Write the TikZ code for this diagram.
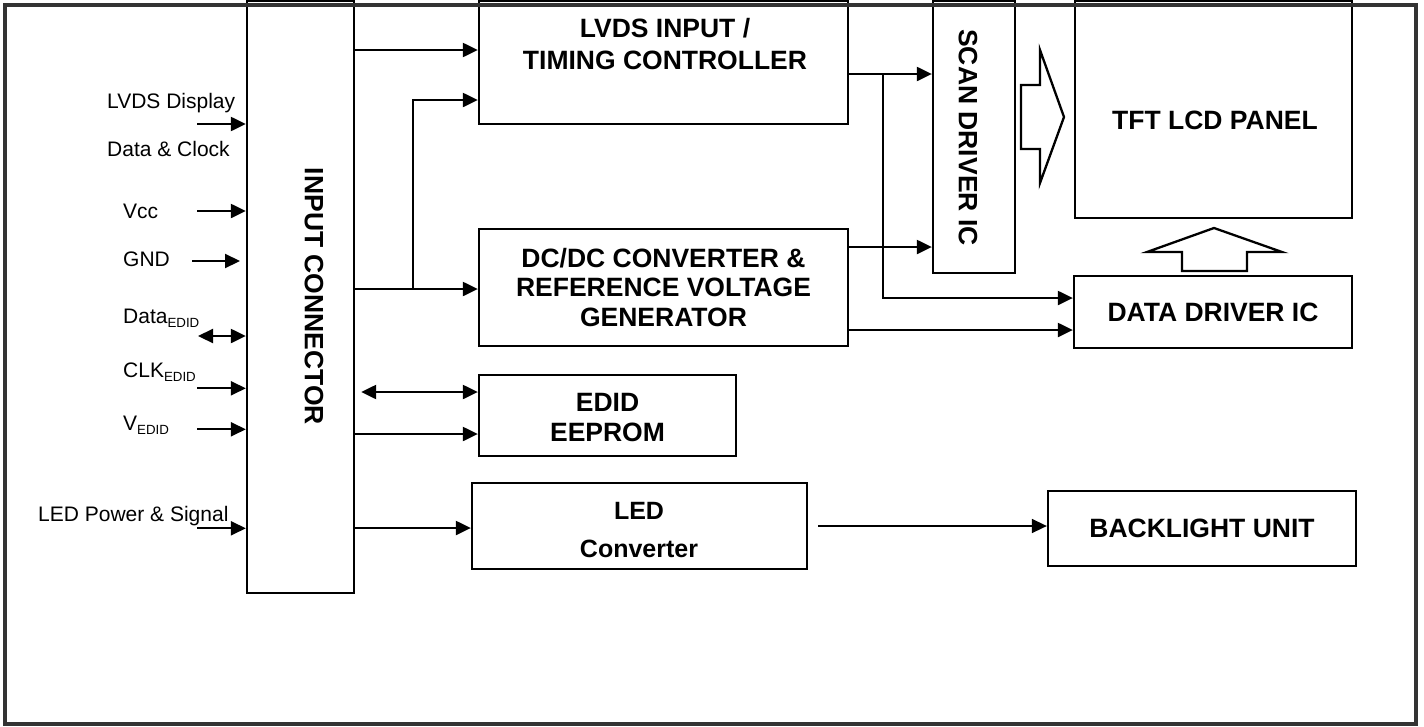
\documentclass[tikz,border=0pt]{standalone}
\usepackage{fontspec}
\setmainfont{Liberation Sans}
\usetikzlibrary{arrows.meta}
\definecolor{framegray}{RGB}{51,51,51}
\newcommand\myB{\fontsize{26.5}{30}\selectfont\bfseries}
\newcommand\myL{\fontsize{21}{25}\selectfont}
\newcommand\mysub[1]{\raisebox{-4.3pt}{\fontsize{13.3}{14}\selectfont #1}}
\begin{document}
\begin{tikzpicture}[x=1pt,y=-1pt,
  box/.style={draw, line width=2.3pt, inner sep=0pt, align=center, font=\myB},
  txt/.style={align=center, font=\myB},
  lbl/.style={anchor=base west, inner sep=0pt, font=\myL},
  arr/.style={line width=2.2pt, -{Triangle[length=15pt,width=14pt]}},
  darr/.style={line width=2.2pt, {Triangle[length=15pt,width=14pt]}-{Triangle[length=15pt,width=14pt]}},
  blk/.style={draw, line width=2.3pt, line join=miter, fill=white}]
\useasboundingbox (0,0) rectangle (1424,726);

% boxes
\node[box, minimum width=107pt, minimum height=592pt] (conn) at (300.5,297) {};
\node[box, minimum width=369pt, minimum height=123pt] (lvds) at (663.5,62.5) {};
\node[box, minimum width=369pt, minimum height=117pt, font=\fontsize{26.5}{29.5}\selectfont\bfseries] (dcdc) at (663.5,287.5) {DC/DC CONVERTER \&\\REFERENCE VOLTAGE\\GENERATOR};
\node[box, minimum width=257pt, minimum height=81pt] (edid) at (607.5,415.5) {};
\node[box, minimum width=335pt, minimum height=86pt] (led) at (639.5,526) {};
\node[box, minimum width=82pt, minimum height=272pt] (scan) at (974,137) {};
\node[box, minimum width=277pt, minimum height=217pt] (tft) at (1213.5,109.5) {};
\node[box, minimum width=278pt, minimum height=72pt] (ddrv) at (1213,312) {DATA DRIVER IC};
\node[box, minimum width=308pt, minimum height=75pt] (blu) at (1202,528.5) {BACKLIGHT UNIT};

% box texts
\node[txt, font=\fontsize{26.5}{32}\selectfont\bfseries] (lvdsT) at (665,44) {LVDS INPUT /\\TIMING CONTROLLER};
\node[txt, rotate=-90] (connT) at (314,296.5) {INPUT CONNECTOR};
\node[txt, rotate=-90] (scanT) at (968,137.5) {SCAN DRIVER IC};
\node[txt] (tftT) at (1215,120.7) {TFT LCD PANEL};
\node[txt] (edidT) at (607.5,418) {EDID\\EEPROM};
\node[txt, font=\fontsize{25}{38}\selectfont\bfseries] (ledT) at (639,530) {LED\\Converter};

% block arrows
\draw[blk] (1021,85) -- (1040,85) -- (1040,50) -- (1064,117) -- (1040,183) -- (1040,149) -- (1021,149) -- cycle;
\draw[blk] (1182,271) -- (1182,252) -- (1147,252) -- (1214,228) -- (1282,252) -- (1247,252) -- (1247,271) -- cycle;

% left labels
\node[lbl] (tLVDS1) at (107,108.5) {LVDS Display};
\node[lbl] (tLVDS2) at (107,156) {Data \& Clock};
\node[lbl] (tVcc) at (123,218.3) {Vcc};
\node[lbl] (tGND) at (123,266.7) {GND};
\node[lbl] (tData) at (123,323.3) {Data\mysub{EDID}};
\node[lbl] (tCLK) at (123,377.3) {CLK\mysub{EDID}};
\node[lbl] (tV) at (123,430) {V\mysub{EDID}};
\node[lbl] (tLED) at (38,521.7) {LED Power \& Signal};

% left input arrows
\coordinate (inLVDS) at (197,124);
\coordinate (inVcc) at (197,211);
\coordinate (inGND) at (192,261);
\coordinate (inGNDe) at (240,261);
\coordinate (inData) at (198,336);
\coordinate (inCLK) at (197,388.3);
\coordinate (inV) at (197,429.3);
\coordinate (inLED) at (197,528.3);
\draw[arr] (inLVDS) -- (conn.west |- inLVDS);
\draw[arr] (inVcc) -- (conn.west |- inVcc);
\draw[arr] (inGND) -- (inGNDe);
\draw[darr] (inData) -- (conn.west |- inData);
\draw[arr] (inCLK) -- (conn.west |- inCLK);
\draw[arr] (inV) -- (conn.west |- inV);
\draw[arr] (inLED) -- (conn.west |- inLED);

% connector outputs
\coordinate (j1) at (413,289);
\coordinate (j2) at (883,74);
\draw[arr] (conn.east |- 0,50) -- (lvds.west |- 0,50);
\draw[arr] (conn.east |- j1) -- (dcdc.west |- j1);
\draw[arr] (j1) |- (lvds.west |- 0,100);
\draw[darr, shorten <=6pt] (conn.east |- 0,392) -- (edid.west |- 0,392);
\draw[arr] (conn.east |- 0,434) -- (edid.west |- 0,434);
\draw[arr] (conn.east |- 0,528) -- (led.west |- 0,528);

% to drivers
\draw[arr] (lvds.east |- j2) -- (scan.west |- j2);
\draw[arr] (j2) |- (ddrv.west |- 0,298);
\draw[arr] (dcdc.east |- 0,247) -- (scan.west |- 0,247);
\draw[arr] (dcdc.east |- 0,330) -- (ddrv.west |- 0,330);
\draw[arr, line width=1.6pt, shorten <=10pt] (led.east |- 0,526) -- (blu.west |- 0,526);

% outer frame
\draw[framegray, line width=4pt] (5.3,5.3) rectangle (1415.5,723.5);
\end{tikzpicture}
\end{document}
